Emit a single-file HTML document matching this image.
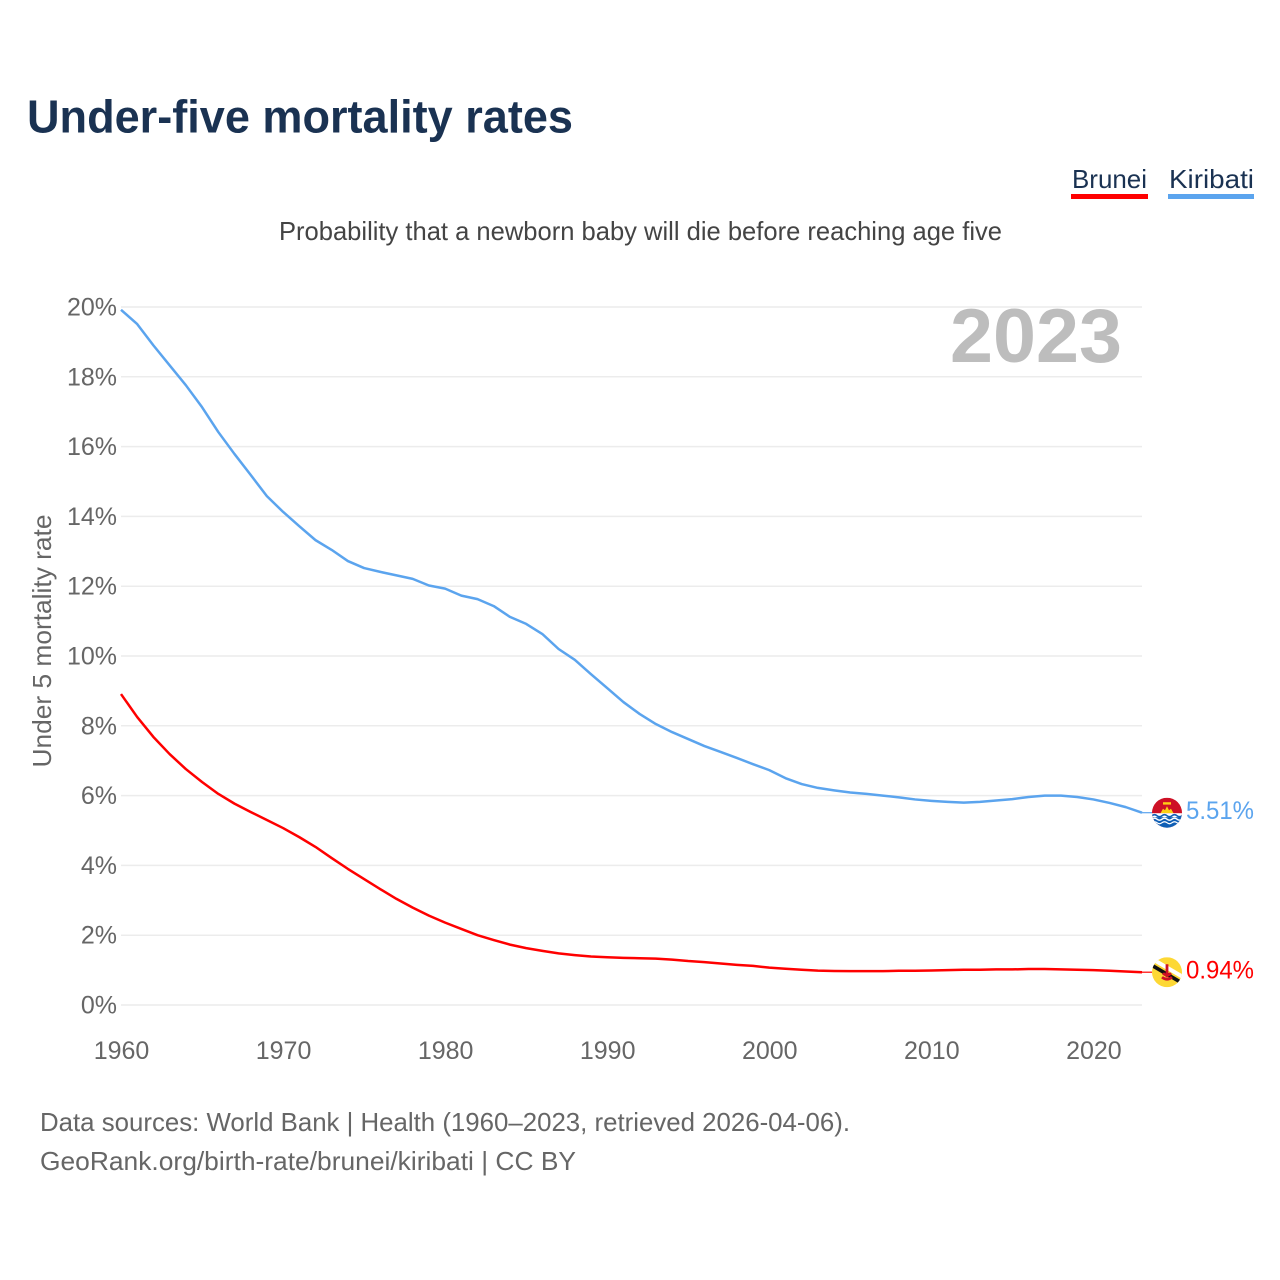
<!DOCTYPE html>
<html lang="en">
<head>
<meta charset="utf-8">
<title>Under-five mortality rates</title>
<style>
html,body{margin:0;padding:0;background:#fff;width:1280px;height:1280px;overflow:hidden}
svg{display:block}
text{font-family:"Liberation Sans",sans-serif}
</style>
</head>
<body>
<svg id="chart" width="1280" height="1280" viewBox="0 0 1280 1280" xmlns="http://www.w3.org/2000/svg">
  <text x="27" y="132.5" font-size="46" font-weight="700" fill="#1a3252" textLength="546" lengthAdjust="spacingAndGlyphs">Under-five mortality rates</text>

  <g>
    <g>
      <text x="1072" y="188" font-size="26" fill="#1a3252" textLength="75" lengthAdjust="spacingAndGlyphs">Brunei</text>
      <rect x="1071" y="194" width="77" height="5" fill="#ff0000"/>
    </g>
    <g>
      <text x="1169" y="188" font-size="26" fill="#1a3252" textLength="85" lengthAdjust="spacingAndGlyphs">Kiribati</text>
      <rect x="1168" y="194" width="86" height="5" fill="#5ba4ee"/>
    </g>
  </g>

  <text x="279" y="240" font-size="26" fill="#444" textLength="723" lengthAdjust="spacingAndGlyphs">Probability that a newborn baby will die before reaching age five</text>

  <g id="grid"></g>
  <g id="yticks"></g>
  <g id="xticks"></g>

  <text transform="translate(51,641) rotate(-90)" text-anchor="middle" font-size="26" fill="#666" textLength="253" lengthAdjust="spacingAndGlyphs">Under 5 mortality rate</text>
  <text x="950" y="362" font-size="76" font-weight="700" fill="#bdbdbd" textLength="172" lengthAdjust="spacingAndGlyphs">2023</text>

  <g id="series"></g>

  <g id="flag-kiribati">
    <clipPath id="clip-k"><circle cx="15" cy="15" r="15"/></clipPath>
    <g clip-path="url(#clip-k)">
      <rect width="30" height="30" fill="#ce1126"/>
      <path d="M8.5 15.5 L11 11 L13 12.5 L15 8.5 L17 12.5 L19 11 L21.5 15.5Z" fill="#fcd116"/>
      <rect y="4.5" x="11" width="8" height="2.4" fill="#fcd116"/>
      <rect y="15.5" width="30" height="15" fill="#fff"/>
      <rect y="19.5" width="30" height="11" fill="#0f5fb5"/>
      <path d="M0 18q2.5-2 5 0t5 0 5 0 5 0 5 0 5 0" fill="none" stroke="#0f5fb5" stroke-width="1.6"/>
      <path d="M0 21.5q2.5-2 5 0t5 0 5 0 5 0 5 0 5 0" fill="none" stroke="#fff" stroke-width="1.4"/>
      <path d="M0 25q2.5-2 5 0t5 0 5 0 5 0 5 0 5 0" fill="none" stroke="#fff" stroke-width="1.2"/>
    </g>
  </g>
  <g id="flag-brunei">
    <clipPath id="clip-b"><circle cx="15" cy="15" r="15"/></clipPath>
    <g clip-path="url(#clip-b)">
      <rect width="30" height="30" fill="#fdd835"/>
      <path d="M-2 4 L32 24" stroke="#fff" stroke-width="4" transform="translate(1,-3)"/>
      <path d="M-2 6 L32 26" stroke="#111" stroke-width="3.6" transform="translate(0,1)"/>
      <path d="M15 7 L15 20 M10 20 Q15 24 20 20 M11 16 Q15 20 19 16" stroke="#ce1126" stroke-width="2.8" fill="none"/>
    </g>
  </g>

  <text id="value-kiribati" x="1186" font-size="25" fill="#5ba4ee" textLength="68" lengthAdjust="spacingAndGlyphs"></text>
  <text id="value-brunei" x="1186" font-size="25" fill="#ff0000" textLength="68" lengthAdjust="spacingAndGlyphs"></text>

  <text x="40" y="1131" font-size="26" fill="#666" textLength="810" lengthAdjust="spacingAndGlyphs">Data sources: World Bank | Health (1960–2023, retrieved 2026-04-06).</text>
  <text x="40" y="1170" font-size="26" fill="#666" textLength="536" lengthAdjust="spacingAndGlyphs">GeoRank.org/birth-rate/brunei/kiribati | CC BY</text>
</svg>
<script>
const startYear = 1960;
const xTickYears = [1960, 1970, 1980, 1990, 2000, 2010, 2020];
const yTickValues = [0, 2, 4, 6, 8, 10, 12, 14, 16, 18, 20];
const kiribati = [19.92,19.51,18.9,18.33,17.76,17.13,16.42,15.79,15.19,14.58,14.13,13.72,13.32,13.04,12.72,12.52,12.41,12.31,12.21,12.02,11.93,11.73,11.63,11.43,11.12,10.92,10.63,10.2,9.89,9.48,9.08,8.68,8.34,8.05,7.82,7.62,7.42,7.25,7.08,6.9,6.73,6.5,6.33,6.22,6.15,6.09,6.05,6.0,5.95,5.89,5.85,5.82,5.8,5.82,5.86,5.9,5.96,6.0,6.0,5.96,5.89,5.79,5.67,5.51];
const brunei = [8.91,8.25,7.68,7.19,6.76,6.39,6.05,5.77,5.53,5.3,5.07,4.81,4.53,4.21,3.9,3.61,3.32,3.04,2.79,2.56,2.36,2.18,2.0,1.86,1.73,1.63,1.55,1.48,1.43,1.39,1.37,1.35,1.34,1.33,1.3,1.26,1.23,1.19,1.15,1.12,1.07,1.04,1.01,0.985,0.975,0.97,0.97,0.97,0.98,0.98,0.99,1.0,1.01,1.01,1.02,1.02,1.03,1.03,1.02,1.01,1.0,0.98,0.96,0.94];

const svgNS = 'http://www.w3.org/2000/svg';
function xScale(year) { return 121 + (year - 1960) * (1142 - 121) / 63; }
function yScale(v) { return 1005 - v * (1005 - 307) / 20; }

const gridG = document.getElementById('grid');
const yG = document.getElementById('yticks');
yTickValues.forEach(function (v) {
  const line = document.createElementNS(svgNS, 'line');
  
  
  line.setAttribute('x1', 121);
  line.setAttribute('x2', 1142);
  line.setAttribute('y1', yScale(v));
  line.setAttribute('y2', yScale(v));
  line.setAttribute('stroke', '#ececec');
  line.setAttribute('stroke-width', '1.5');
  gridG.appendChild(line);
  const t = document.createElementNS(svgNS, 'text');
  
  
  t.setAttribute('x', 117);
  t.setAttribute('y', yScale(v) + 8.5);
  t.setAttribute('text-anchor', 'end');
  t.setAttribute('font-size', '25');
  t.setAttribute('fill', '#666');
  t.textContent = v + '%';
  yG.appendChild(t);
});

const xG = document.getElementById('xticks');
xTickYears.forEach(function (yr) {
  const t = document.createElementNS(svgNS, 'text');
  
  
  t.setAttribute('x', xScale(yr) + 0.5);
  t.setAttribute('y', 1059);
  t.setAttribute('text-anchor', 'middle');
  t.setAttribute('font-size', '25');
  t.setAttribute('fill', '#666');
  t.textContent = yr;
  xG.appendChild(t);
});

function drawSeries(values, color, name) {
  const pts = values.map(function (v, i) {
    return xScale(startYear + i).toFixed(2) + ',' + yScale(v).toFixed(2);
  });
  const line = document.createElementNS(svgNS, 'polyline');
  
  
  line.setAttribute('points', pts.join(' '));
  line.setAttribute('fill', 'none');
  line.setAttribute('stroke', color);
  line.setAttribute('stroke-width', '2.5');
  line.setAttribute('stroke-linejoin', 'round');
  document.getElementById('series').appendChild(line);
  const last = yScale(values[values.length - 1]);
  const lead = document.createElementNS(svgNS, 'line');
  
  
  lead.setAttribute('x1', 1142);
  lead.setAttribute('x2', 1152);
  lead.setAttribute('y1', last);
  lead.setAttribute('y2', last);
  lead.setAttribute('stroke', color);
  lead.setAttribute('stroke-width', '1.2');
  document.getElementById('series').appendChild(lead);
}
drawSeries(kiribati, '#5ba4ee', 'line-kiribati');
drawSeries(brunei, '#ff0000', 'line-brunei');

function placeEnd(values, flagId, labelId) {
  const v = values[values.length - 1];
  const y = yScale(v);
  document.getElementById(flagId).setAttribute('transform', 'translate(1152,' + (y - 15) + ')');
  const label = document.getElementById(labelId);
  label.setAttribute('y', y + 6.5);
  label.textContent = v.toFixed(2) + '%';
}
placeEnd(kiribati, 'flag-kiribati', 'value-kiribati');
placeEnd(brunei, 'flag-brunei', 'value-brunei');
</script>
</body>
</html>
